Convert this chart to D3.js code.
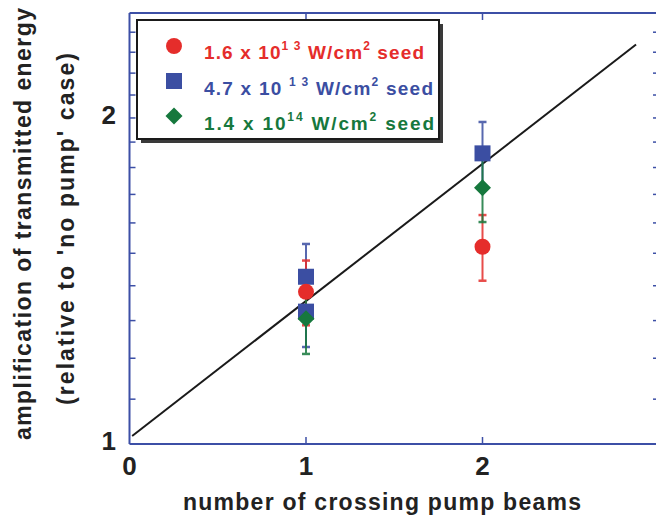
<!DOCTYPE html>
<html>
<head>
<meta charset="utf-8">
<script src="https://cdn.jsdelivr.net/npm/d3@7"></script>
<style>
  html, body { margin: 0; padding: 0; background: #fff; }
  svg text { font-family: "Liberation Sans", Arial, Helvetica, sans-serif; font-weight: bold; }
</style>
</head>
<body>
<svg id="chart" width="656" height="519"></svg>
<script>
// measured values (amplification vs number of crossing pump beams)
const redX = [1, 2];
const redY = [1.382, 1.521];
const redErr = [0.095, 0.106];
const blueX = [1, 1, 2];
const blueY = [1.427, 1.325, 1.855];
const blueErr = [0.103, 0.096, 0.128];
const greenX = [1, 2];
const greenY = [1.305, 1.724];
const greenErr = [0.094, 0.121];
// straight fit line on log axis
const fitX = [0.015, 2.87];
const fitY = [1.017, 2.338];

const xTicks = [0, 1, 2];
const yMajor = [1, 2];
const yMinor = [1.1, 1.2, 1.3, 1.4, 1.5, 1.6, 1.7, 1.8, 1.9, 2.1, 2.2, 2.3, 2.4];

const colors = {red: "#e52d2b", blue: "#3b4ea2", green: "#16783d"};
const axisColor = "#3c4fa6";

const svg = d3.select("#chart");
const margin = {left: 129.5, right: -3, top: 13, bottom: 75};
const W = 656, H = 519;

const x = d3.scaleLinear().domain([0, 3]).range([margin.left, W - margin.right]);
const y = d3.scaleLog().domain([1, 2.5]).range([H - margin.bottom, margin.top]);

const series = [
  {name: "blue", xs: blueX, ys: blueY, es: blueErr},
  {name: "red", xs: redX, ys: redY, es: redErr},
  {name: "green", xs: greenX, ys: greenY, es: greenErr}
];

// axes frame
const gAx = svg.append("g");
gAx.append("line").attr("x1", x(0)).attr("x2", x(3)).attr("y1", y(1)).attr("y2", y(1));
gAx.append("line").attr("x1", x(0)).attr("x2", x(3)).attr("y1", y(2.5)).attr("y2", y(2.5));
gAx.append("line").attr("x1", x(0)).attr("x2", x(0)).attr("y1", y(1)).attr("y2", y(2.5));
gAx.append("line").attr("x1", x(3)).attr("x2", x(3)).attr("y1", y(1)).attr("y2", y(2.5));
gAx.selectAll("line").attr("stroke", axisColor).attr("stroke-width", 2);

// ticks (inward, mirrored)
const tickG = svg.append("g").attr("stroke", axisColor).attr("stroke-width", 1.5);
xTicks.filter(d => d > 0).forEach(d => {
  tickG.append("line").attr("x1", x(d)).attr("x2", x(d)).attr("y1", y(1)).attr("y2", y(1) - 7);
  tickG.append("line").attr("x1", x(d)).attr("x2", x(d)).attr("y1", y(2.5)).attr("y2", y(2.5) + 7);
});
yMinor.concat(yMajor.filter(d => d > 1)).forEach(d => {
  tickG.append("line").attr("x1", x(0)).attr("x2", x(0) + 6).attr("y1", y(d)).attr("y2", y(d));
  tickG.append("line").attr("x1", x(3)).attr("x2", x(3) - 6).attr("y1", y(d)).attr("y2", y(d));
});

// tick labels
svg.append("g").selectAll("text").data(xTicks).join("text")
  .attr("x", d => x(d)).attr("y", 475)
  .attr("text-anchor", "middle").attr("font-size", 26).attr("fill", "#222")
  .text(d => d);
svg.append("g").selectAll("text").data(yMajor).join("text")
  .attr("x", 116).attr("y", d => y(d) + 6)
  .attr("text-anchor", "end").attr("font-size", 26).attr("fill", "#222")
  .text(d => d);

// axis titles
svg.append("text").attr("x", 382).attr("y", 510).attr("text-anchor", "middle")
  .attr("font-size", 23).attr("fill", "#222")
  .attr("textLength", 398).attr("lengthAdjust", "spacing")
  .text("number of crossing pump beams");
svg.append("text").attr("transform", "translate(31,224) rotate(-90)").attr("text-anchor", "middle")
  .attr("font-size", 23).attr("fill", "#222")
  .attr("textLength", 432).attr("lengthAdjust", "spacing")
  .text("amplification of transmitted energy");
svg.append("text").attr("transform", "translate(74,229) rotate(-90)").attr("text-anchor", "middle")
  .attr("font-size", 23).attr("fill", "#222")
  .attr("textLength", 352).attr("lengthAdjust", "spacing")
  .text("(relative to 'no pump' case)");

// fit line
svg.append("path")
  .datum(fitX.map((d, i) => [d, fitY[i]]))
  .attr("d", d3.line().x(d => x(d[0])).y(d => y(d[1])))
  .attr("fill", "none").attr("stroke", "#1a1a1a").attr("stroke-width", 2);

// error bars
series.forEach(s => {
  const g = svg.append("g").attr("stroke", colors[s.name]).attr("opacity", 0.85);
  s.xs.forEach((xv, i) => {
    const lo = s.ys[i] - s.es[i], hi = s.ys[i] + s.es[i];
    g.append("line").attr("x1", x(xv)).attr("x2", x(xv)).attr("y1", y(lo)).attr("y2", y(hi)).attr("stroke-width", 2);
    [lo, hi].forEach(v => g.append("line")
      .attr("x1", x(xv) - 4).attr("x2", x(xv) + 4).attr("y1", y(v)).attr("y2", y(v)).attr("stroke-width", 2.5));
  });
});

// markers
const shapes = {red: d3.symbolCircle, blue: d3.symbolSquare};
const sizes = {red: 200, blue: 256};
function marker(g, name) {
  if (name === "green") {
    return g.append("path").attr("d", "M0,-8.5L8.5,0L0,8.5L-8.5,0Z").attr("fill", colors[name]);
  }
  return g.append("path").attr("d", d3.symbol(shapes[name], sizes[name])()).attr("fill", colors[name]);
}
series.forEach(s => {
  s.xs.forEach((xv, i) => {
    const g = svg.append("g").attr("transform", `translate(${x(xv)},${y(s.ys[i])})`);
    marker(g, s.name);
  });
});

// legend
const leg = svg.append("g");
leg.append("rect").attr("x", 141).attr("y", 24).attr("width", 302).attr("height", 119).attr("fill", "#3a3a3a");
leg.append("rect").attr("x", 137).attr("y", 20).attr("width", 302).attr("height", 119)
  .attr("fill", "#fff").attr("stroke", "#1a1a1a").attr("stroke-width", 2);

const legendRows = [
  {name: "red", mant: "1.6 x 10", exp: "1 3", tail: " W/cm", y: 59, my: 46, len: 220},
  {name: "blue", mant: "4.7 x 10 ", exp: "1 3", tail: " W/cm", y: 95, my: 81, len: 229},
  {name: "green", mant: "1.4 x 10", exp: "14", tail: " W/cm", y: 130, my: 116, len: 230}
];
legendRows.forEach(r => {
  const mg = leg.append("g").attr("transform", `translate(174,${r.my})`);
  marker(mg, r.name);
  const t = leg.append("text").attr("x", 204).attr("y", r.y).attr("font-size", 19).attr("fill", colors[r.name])
    .attr("textLength", r.len).attr("lengthAdjust", "spacing");
  t.append("tspan").text(r.mant);
  t.append("tspan").attr("dy", -9).attr("font-size", 12).text(r.exp);
  t.append("tspan").attr("dy", 9).text(r.tail);
  t.append("tspan").attr("dy", -9).attr("font-size", 12).text("2");
  t.append("tspan").attr("dy", 9).text("  seed");
});
</script>
</body>
</html>
